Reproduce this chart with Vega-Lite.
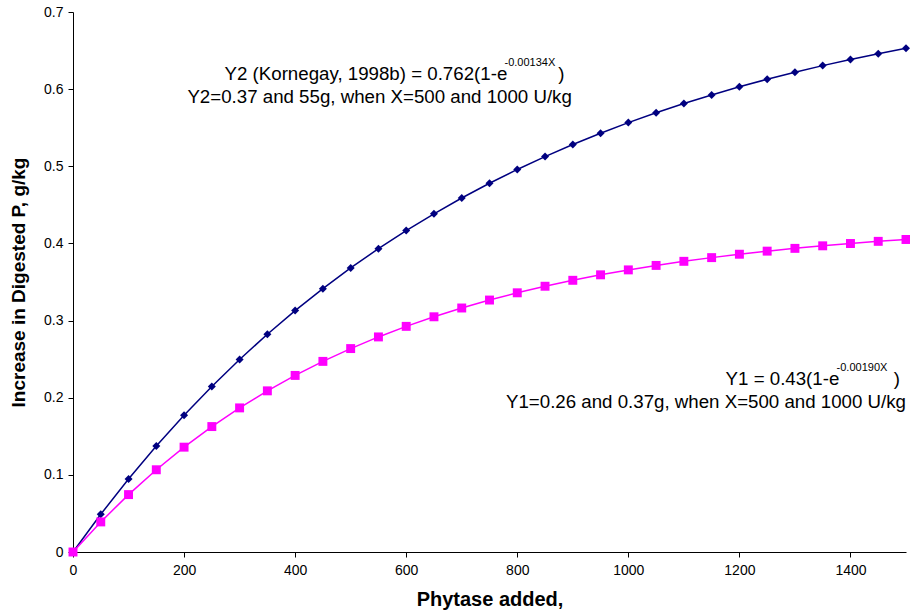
{
  "$schema": "https://vega.github.io/schema/vega-lite/v6.json",
  "width": 833,
  "height": 540,
  "autosize": {"type": "none"},
  "padding": {"left": 73, "top": 12, "right": 4, "bottom": 60},
  "background": "white",
  "config": {
    "view": {"stroke": null},
    "font": "Liberation Sans",
    "axis": {"grid": false, "labelFlush": false, "domainColor": "black", "tickColor": "black", "labelColor": "black", "titleColor": "black", "labelFont": "Liberation Sans", "titleFont": "Liberation Sans"}
  },
  "datasets": {
    "series": [
      {"x": 0, "y": 0, "s": "Y2"},
      {"x": 50, "y": 0.0489, "s": "Y2"},
      {"x": 100, "y": 0.0946, "s": "Y2"},
      {"x": 150, "y": 0.1373, "s": "Y2"},
      {"x": 200, "y": 0.1773, "s": "Y2"},
      {"x": 250, "y": 0.2146, "s": "Y2"},
      {"x": 300, "y": 0.2496, "s": "Y2"},
      {"x": 350, "y": 0.2823, "s": "Y2"},
      {"x": 400, "y": 0.3129, "s": "Y2"},
      {"x": 450, "y": 0.3414, "s": "Y2"},
      {"x": 500, "y": 0.3682, "s": "Y2"},
      {"x": 550, "y": 0.3932, "s": "Y2"},
      {"x": 600, "y": 0.4166, "s": "Y2"},
      {"x": 650, "y": 0.4384, "s": "Y2"},
      {"x": 700, "y": 0.4589, "s": "Y2"},
      {"x": 750, "y": 0.4780, "s": "Y2"},
      {"x": 800, "y": 0.4959, "s": "Y2"},
      {"x": 850, "y": 0.5126, "s": "Y2"},
      {"x": 900, "y": 0.5283, "s": "Y2"},
      {"x": 950, "y": 0.5429, "s": "Y2"},
      {"x": 1000, "y": 0.5566, "s": "Y2"},
      {"x": 1050, "y": 0.5694, "s": "Y2"},
      {"x": 1100, "y": 0.5813, "s": "Y2"},
      {"x": 1150, "y": 0.5925, "s": "Y2"},
      {"x": 1200, "y": 0.6030, "s": "Y2"},
      {"x": 1250, "y": 0.6128, "s": "Y2"},
      {"x": 1300, "y": 0.6219, "s": "Y2"},
      {"x": 1350, "y": 0.6305, "s": "Y2"},
      {"x": 1400, "y": 0.6385, "s": "Y2"},
      {"x": 1450, "y": 0.6460, "s": "Y2"},
      {"x": 1500, "y": 0.6530, "s": "Y2"},
      {"x": 0, "y": 0, "s": "Y1"},
      {"x": 50, "y": 0.0390, "s": "Y1"},
      {"x": 100, "y": 0.0744, "s": "Y1"},
      {"x": 150, "y": 0.1066, "s": "Y1"},
      {"x": 200, "y": 0.1359, "s": "Y1"},
      {"x": 250, "y": 0.1626, "s": "Y1"},
      {"x": 300, "y": 0.1868, "s": "Y1"},
      {"x": 350, "y": 0.2089, "s": "Y1"},
      {"x": 400, "y": 0.2289, "s": "Y1"},
      {"x": 450, "y": 0.2471, "s": "Y1"},
      {"x": 500, "y": 0.2637, "s": "Y1"},
      {"x": 550, "y": 0.2788, "s": "Y1"},
      {"x": 600, "y": 0.2925, "s": "Y1"},
      {"x": 650, "y": 0.3049, "s": "Y1"},
      {"x": 700, "y": 0.3163, "s": "Y1"},
      {"x": 750, "y": 0.3266, "s": "Y1"},
      {"x": 800, "y": 0.3360, "s": "Y1"},
      {"x": 850, "y": 0.3445, "s": "Y1"},
      {"x": 900, "y": 0.3522, "s": "Y1"},
      {"x": 950, "y": 0.3593, "s": "Y1"},
      {"x": 1000, "y": 0.3657, "s": "Y1"},
      {"x": 1050, "y": 0.3715, "s": "Y1"},
      {"x": 1100, "y": 0.3768, "s": "Y1"},
      {"x": 1150, "y": 0.3816, "s": "Y1"},
      {"x": 1200, "y": 0.3860, "s": "Y1"},
      {"x": 1250, "y": 0.3900, "s": "Y1"},
      {"x": 1300, "y": 0.3936, "s": "Y1"},
      {"x": 1350, "y": 0.3969, "s": "Y1"},
      {"x": 1400, "y": 0.3999, "s": "Y1"},
      {"x": 1450, "y": 0.4027, "s": "Y1"},
      {"x": 1500, "y": 0.4051, "s": "Y1"}
    ],
    "notes": [
      {"role": "eq", "x": 782, "y": 0.620, "t": "Y2 (Kornegay, 1998b) = 0.762(1-e"},
      {"role": "sup", "x": 777, "y": 0.634, "t": "-0.00134X"},
      {"role": "paren", "x": 874, "y": 0.620, "t": ")"},
      {"role": "noteL", "x": 206, "y": 0.5897, "t": "Y2=0.37 and 55g, when X=500 and 1000 U/kg"},
      {"role": "eq", "x": 1380, "y": 0.2240, "t": "Y1 = 0.43(1-e"},
      {"role": "sup", "x": 1375, "y": 0.2380, "t": "-0.00190X"},
      {"role": "paren", "x": 1478, "y": 0.2240, "t": ")"},
      {"role": "noteR", "x": 1500, "y": 0.1940, "t": "Y1=0.26 and 0.37g, when X=500 and 1000 U/kg"}
    ]
  },
  "encoding": {
    "x": {"field": "x", "type": "quantitative", "scale": {"domain": [0, 1500], "nice": false},
      "axis": {"title": "Phytase added,", "values": [0, 200, 400, 600, 800, 1000, 1200, 1400], "format": "d", "labelFontSize": 14, "titleFontSize": 20, "titleFontWeight": "bold", "tickSize": 5, "labelPadding": 6, "titlePadding": 12}},
    "y": {"field": "y", "type": "quantitative", "scale": {"domain": [0, 0.7], "nice": false},
      "axis": {"title": "Increase in Digested P, g/kg", "values": [0, 0.1, 0.2, 0.3, 0.4, 0.5, 0.6, 0.7], "labelFontSize": 14, "titleFontSize": 19, "titleFontWeight": "bold", "tickSize": 5, "labelPadding": 5, "titlePadding": 15, "labelExpr": "datum.value == 0 ? '0' : format(datum.value, '.1f')"}}
  },
  "layer": [
    {
      "data": {"name": "series"},
      "mark": {"type": "line", "strokeWidth": 1.5},
      "encoding": {
        "color": {"field": "s", "type": "nominal", "scale": {"domain": ["Y2", "Y1"], "range": ["#000080", "#FF00FF"]}, "legend": null},
        "detail": {"field": "s"}
      }
    },
    {
      "data": {"name": "series"},
      "mark": {"type": "point", "filled": true, "opacity": 1},
      "encoding": {
        "color": {"field": "s", "type": "nominal", "scale": {"domain": ["Y2", "Y1"], "range": ["#000080", "#FF00FF"]}, "legend": null},
        "shape": {"field": "s", "type": "nominal", "scale": {"domain": ["Y2", "Y1"], "range": ["diamond", "square"]}, "legend": null},
        "size": {"field": "s", "type": "nominal", "scale": {"domain": ["Y2", "Y1"], "range": [64, 80]}, "legend": null}
      }
    },
    {
      "data": {"name": "notes"},
      "transform": [{"filter": "datum.role == 'eq'"}],
      "mark": {"type": "text", "align": "right", "baseline": "middle", "fontSize": 18.7, "color": "black"},
      "encoding": {"text": {"field": "t"}}
    },
    {
      "data": {"name": "notes"},
      "transform": [{"filter": "datum.role == 'sup'"}],
      "mark": {"type": "text", "align": "left", "baseline": "middle", "fontSize": 11, "color": "black"},
      "encoding": {"text": {"field": "t"}}
    },
    {
      "data": {"name": "notes"},
      "transform": [{"filter": "datum.role == 'paren'"}],
      "mark": {"type": "text", "align": "left", "baseline": "middle", "fontSize": 18.7, "color": "black"},
      "encoding": {"text": {"field": "t"}}
    },
    {
      "data": {"name": "notes"},
      "transform": [{"filter": "datum.role == 'noteL'"}],
      "mark": {"type": "text", "align": "left", "baseline": "middle", "fontSize": 18.7, "color": "black"},
      "encoding": {"text": {"field": "t"}}
    },
    {
      "data": {"name": "notes"},
      "transform": [{"filter": "datum.role == 'noteR'"}],
      "mark": {"type": "text", "align": "right", "baseline": "middle", "fontSize": 18.7, "color": "black"},
      "encoding": {"text": {"field": "t"}}
    }
  ]
}
